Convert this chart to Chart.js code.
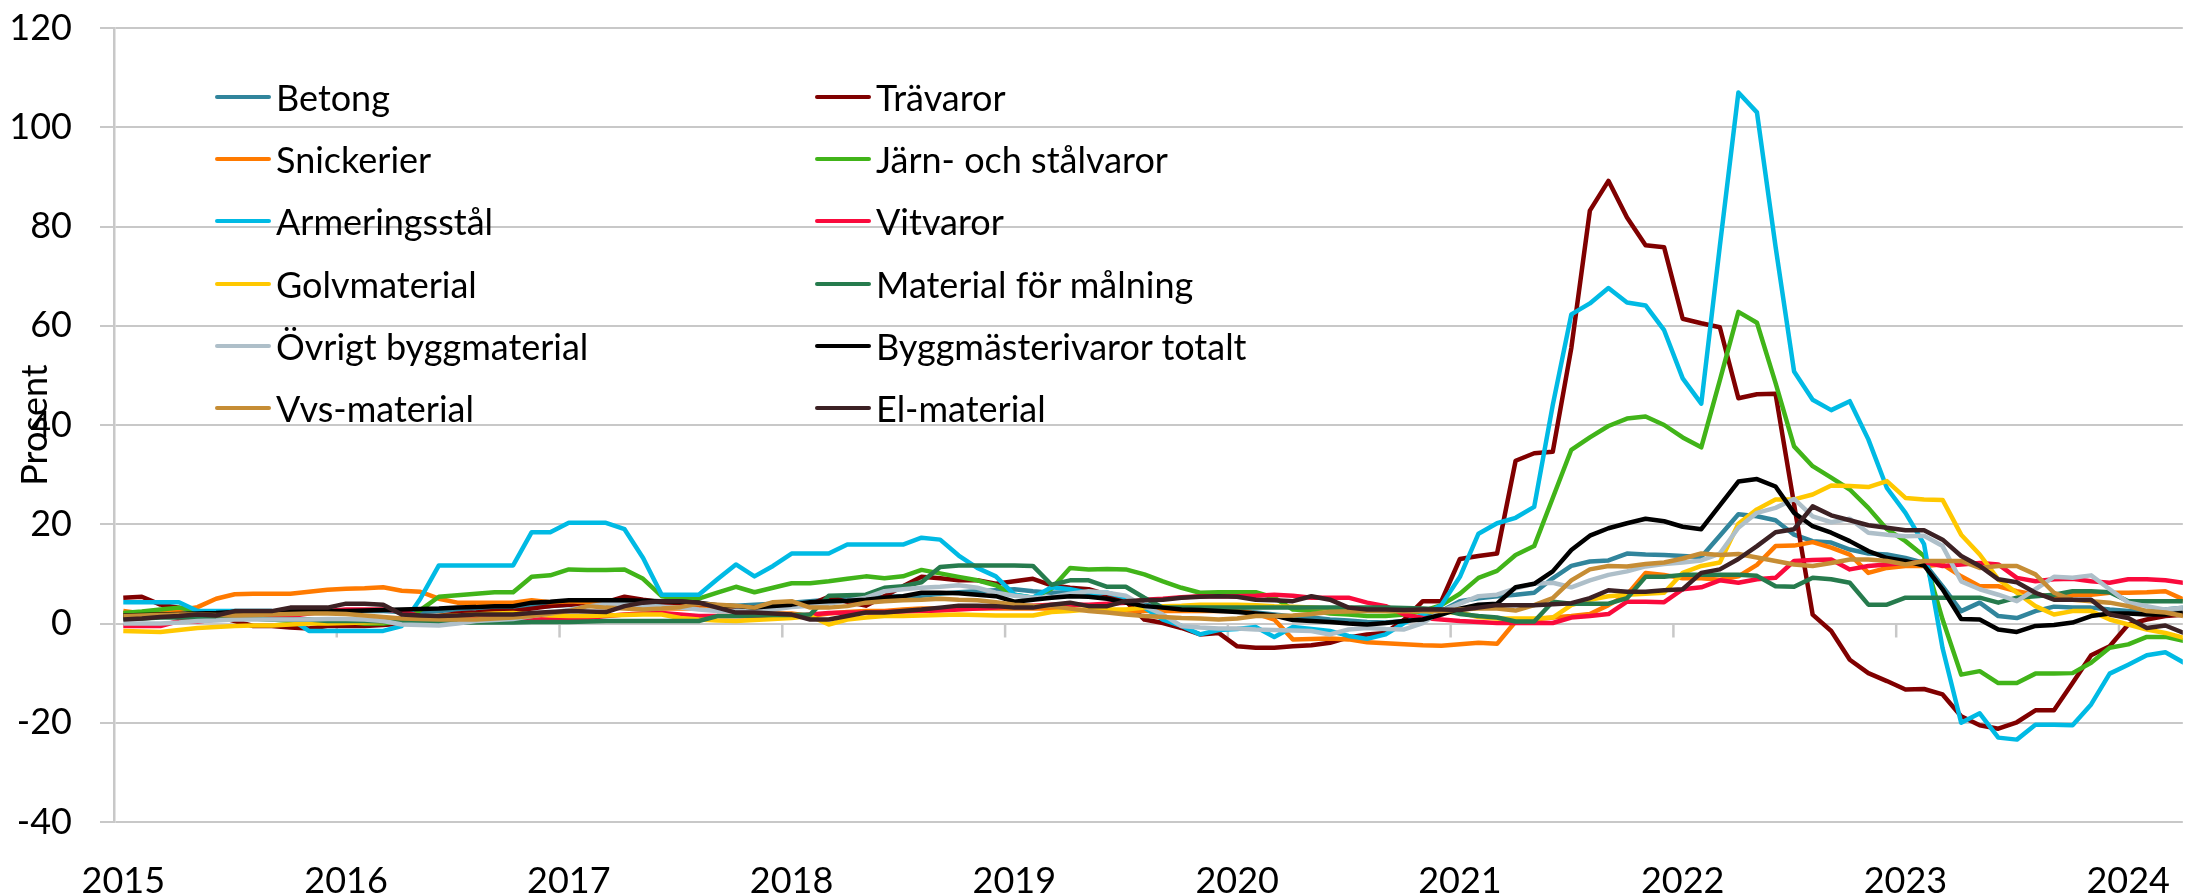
<!DOCTYPE html>
<html lang="sv">
<head>
<meta charset="utf-8">
<title>Byggmästerivaror</title>
<script src="https://cdn.jsdelivr.net/npm/chart.js@4.4.1/dist/chart.umd.min.js"></script>
<style>
  body { margin: 0; background: #fff; }
  #wrap { position: relative; width: 2208px; height: 895px; overflow: hidden; }
  #chart { position: absolute; left: 0; top: 0; }
  .legend-item {
    position: absolute; height: 62px; display: flex; align-items: center;
    font-family: Lato, sans-serif; font-size: 36px; color: #000; white-space: nowrap;
  }
  .legend-item .swatch { display: inline-block; width: 56px; height: 4px; border-radius: 2px; margin-right: 5px; }
</style>
</head>
<body>
<div id="wrap">
  <canvas id="chart" width="2208" height="895"></canvas>
  <div id="legend"></div>
</div>
<script>
// tick labels (one per January)
var years = ['2015', '2016', '2017', '2018', '2019', '2020', '2021', '2022', '2023', '2024']

// categories: months Jan 2015 - Apr 2024
var months = []
years.forEach(function(y) {
    for (var m = 1; m <= 12; m++) months.push(y + '-' + (m < 10 ? '0' + m : m))
})
months = months.slice(0, 112)

// annual change, percent
var betong = [1.5, 1.5, 1.8, 2, 2, 2, 2.2, 2.3, 2.3, 2.5, 2.5, 2.5,
    2.5, 2.5, 2.5, 2.3, 2.3, 2.5, 2.8, 3, 3, 3.2, 3.5, 3.5,
    3.8, 3.8, 3.8, 3.8, 3.6, 3.5, 3.5, 3.5, 3.6, 3.6, 3.8, 4,
    4.2, 4.5, 4.8, 5, 5.2, 5.4, 5.5, 5.6, 6, 6.3, 6.5, 6.7,
    6.9, 6.5, 6.2, 6.3, 6.2, 5.5, 4.5, 3.8, 3.3, 3, 2.8, 2.6,
    2.5, 2.2, 1.8, 1.4, 1.2, 0.8, 0.6, 0.3, 0.2, 0.5, 1.2, 2.5,
    4.5, 5.1, 5.5, 5.8, 6.2, 9.1, 11.6, 12.5, 12.7, 14.1, 13.9, 13.8,
    13.6, 13.4, 17.7, 22, 21.6, 20.8, 17.9, 16.6, 16.3, 14.9, 14.1, 13.9,
    13.2, 12.2, 7.5, 2.5, 4.2, 1.5, 1.1, 2.5, 3.4, 3.2, 3.2, 2.8,
    2.5, 2.5, 2.8, 3.2]
var travaror = [5.2, 5.4, 3.8, 3.2, 2.5, 1.5, 0.5, -0.5, -0.5, -0.8, -1, -0.5,
    -0.5, -0.5, -0.3, 0, 1, 1.5, 2, 2.2, 2.5, 2.5, 3, 3.5,
    3.8, 4, 4.3, 5.4, 4.8, 4.3, 3.8, 3.2, 2.8, 2.5, 2.5, 3,
    3.5, 3.8, 5.4, 4.3, 3.6, 5.5, 7.5, 9.4, 9.1, 8.7, 8.7, 8,
    8.5, 9, 7.7, 7.2, 6.9, 5.8, 4.5, 0.8, 0.1, -0.9, -2.2, -1.9,
    -4.6, -4.9, -4.9, -4.6, -4.4, -3.9, -2.8, -2.2, -1.9, 0.8, 4.5, 4.5,
    13, 13.6, 14.1, 32.8, 34.3, 34.6, 55.5, 83.2, 89.2, 81.8, 76.2, 75.8,
    61.4, 60.5, 59.7, 45.4, 46.2, 46.3, 24, 1.8, -1.5, -7.3, -10, -11.6,
    -13.3, -13.2, -14.3, -18.7, -20.5, -21.2, -19.9, -17.5, -17.5, -12, -6.4, -4.6,
    -0.2, 0.8, 1.5, 1.8]
var snickerier = [2.5, 2, 2, 2.7, 3.3, 5, 5.9, 6, 6, 6, 6.4, 6.8,
    7, 7.1, 7.3, 6.6, 6.4, 5, 4.2, 4.2, 4.2, 4.2, 4.7, 4.3,
    4.5, 4.3, 4, 3.5, 3.2, 3, 3, 3, 2.8, 2.5, 2.3, 2,
    2, 1.5, 2, 2.3, 2.5, 2.5, 2.8, 3, 3, 3, 3, 3,
    3, 3, 3, 2.8, 2.7, 2.7, 2.6, 2.5, 2.5, 2.5, 2.5, 2.5,
    2.5, 2, 0.8, -3.2, -3.1, -3, -3.2, -3.8, -4, -4.2, -4.4, -4.5,
    -4.2, -3.9, -4.1, 0.4, 0.8, 1.2, 1.5, 1.9, 3.7, 5.8, 10.2, 9.8,
    9.1, 9.1, 8.8, 9.5, 11.8, 15.6, 15.7, 16.4, 15.3, 13.9, 10.2, 11.2,
    11.6, 11.6, 11.9, 9.5, 7.5, 7.5, 6.5, 5.8, 5.5, 5.8, 5.8, 6.2,
    6.2, 6.3, 6.5, 4.8]
var jarnStal = [2.1, 2.4, 2.8, 3.2, 2.5, 1.5, 1, 1, 0.8, 0.5, 0.5, 0.3,
    0.3, 0, 0, 0.5, 2.7, 5.4, 5.7, 6, 6.3, 6.3, 9.4, 9.7,
    10.9, 10.8, 10.8, 10.9, 9, 5.5, 5, 5, 6.2, 7.4, 6.3, 7.2,
    8.1, 8.1, 8.5, 9, 9.5, 9.1, 9.5, 10.8, 10.1, 9.4, 8.7, 7.7,
    5.8, 5.2, 7, 11.2, 10.9, 11, 10.9, 9.9, 8.5, 7.2, 6.2, 6.3,
    6.3, 6.3, 5.2, 2.8, 2.6, 2, 1.8, 1.5, 1.5, 1.8, 2.5, 3.7,
    6, 9.2, 10.6, 13.8, 15.6, 25.3, 35, 37.5, 39.8, 41.3, 41.7, 40,
    37.5, 35.5, 49, 62.8, 60.6, 48.5, 35.7, 31.7, 29.4, 27, 23.3, 19,
    16.6, 13.6, 0.8, -10.3, -9.6, -12, -12, -10.1, -10.1, -10, -7.9, -4.9,
    -4.2, -2.7, -2.7, -3.5]
var armering = [4.3, 4.3, 4.3, 4.3, 2.5, 2.5, 2.5, 2.5, 2.5, 1, -1.5, -1.5,
    -1.5, -1.5, -1.5, -0.5, 5, 11.7, 11.7, 11.7, 11.7, 11.7, 18.4, 18.4,
    20.3, 20.3, 20.3, 19, 13.2, 5.8, 5.8, 5.8, 8.9, 11.9, 9.5, 11.6,
    14.1, 14.1, 14.1, 15.9, 15.9, 15.9, 15.9, 17.3, 16.9, 13.7, 11.2, 9.5,
    5.8, 5.2, 7.3, 6.9, 6.2, 6.2, 5.2, 3.2, 0.8, -0.5, -2.2, -1.3,
    -1.1, -0.7, -2.7, -0.7, -1.1, -1.5, -2.5, -3.1, -2.2, 0.1, 1.8, 3.7,
    9.4, 18.1, 20.2, 21.3, 23.5, 44, 62.3, 64.5, 67.6, 64.7, 64.1, 59.1,
    49.4, 44.3, 76, 107, 103, 76, 50.8, 45.1, 43, 44.8, 37.1, 27.3,
    22.3, 16, -5, -20, -18.1, -23, -23.4, -20.4, -20.4, -20.5, -16.3, -10.1,
    -8.3, -6.4, -5.8, -7.9]
var vitvaror = [-0.5, -0.5, -0.5, 0.5, 0.4, 0.8, 1, 1, 1.2, 1.5, 2, 2.5,
    2.8, 2.8, 2.8, 2.5, 1.5, 1, 1, 1, 1, 1, 1, 1,
    1, 1.1, 1.5, 1.8, 2, 2.1, 1.8, 1.5, 1.5, 1.5, 1.4, 1.4,
    1.4, 1.8, 2.1, 2.2, 2.2, 2.3, 2.4, 2.5, 2.6, 2.8, 3, 3.2,
    3.4, 3.6, 3.8, 3.8, 3.8, 4, 4.2, 4.8, 5, 5.3, 5.5, 5.5,
    5.5, 5.6, 5.8, 5.6, 5.2, 5.2, 5.2, 4.2, 3.5, 1.8, 1.1, 0.8,
    0.5, 0.3, 0.1, 0.1, 0.1, 0.1, 1.2, 1.5, 1.9, 4.4, 4.4, 4.3,
    6.9, 7.3, 8.7, 8.2, 8.9, 9.2, 12.6, 12.8, 12.9, 10.9, 11.6, 11.9,
    12.2, 12.4, 11.6, 11.9, 12.2, 11.9, 9.2, 8.5, 8.9, 9, 8.5, 8.2,
    8.9, 8.9, 8.7, 8.2]
var golv = [-1.5, -1.6, -1.7, -1.3, -0.9, -0.7, -0.5, -0.4, -0.4, -0.2, 0, 0,
    0.1, 0.2, 0.3, 0.8, 1.2, 1.5, 1.6, 1.8, 2, 2.1, 1.8, 1.6,
    1.5, 1.5, 1.6, 1.7, 1.8, 1.8, 1.1, 0.8, 0.6, 0.5, 0.7, 0.9,
    1.1, 1.5, -0.2, 0.8, 1.2, 1.5, 1.5, 1.6, 1.7, 1.8, 1.7, 1.6,
    1.6, 1.6, 2.3, 2.5, 2.8, 2.8, 2.8, 3.2, 3.5, 3.6, 3.8, 3.8,
    3.8, 3.7, 3.5, 3.4, 3.2, 3, 2.8, 2.6, 2.5, 2.5, 2.5, 2.3,
    2.2, 1.3, 1, 1, 1, 1.2, 3.7, 4.8, 5.5, 5.8, 6, 6.2,
    10.2, 11.6, 12.3, 20.1, 23, 25, 25, 26, 27.8, 27.7, 27.5, 28.7,
    25.3, 25, 24.9, 17.9, 13.9, 8.9, 6.2, 3.5, 1.8, 2.5, 2.5, 0.8,
    -0.2, -1.2, -1.9, -2.9]
var malning = [1, 1, 1.2, 1.2, 1.2, 1, 1, 1, 0.8, 0.8, 0.8, 0.5,
    0.5, 0.5, 0.4, 0.3, 0.2, 0.2, 0.2, 0.2, 0.2, 0.2, 0.3, 0.3,
    0.3, 0.4, 0.5, 0.5, 0.5, 0.5, 0.5, 0.5, 1.5, 1.5, 1.6, 1.7,
    1.7, 1.8, 5.6, 5.7, 5.8, 7.2, 7.5, 8.3, 11.4, 11.7, 11.7, 11.7,
    11.7, 11.6, 7.8, 8.7, 8.7, 7.4, 7.4, 5.2, 3.2, 3.2, 3.2, 3.2,
    3.2, 3.2, 3.2, 3.2, 3.2, 3.2, 3.2, 3.2, 3.2, 3.1, 3, 2.8,
    1.9, 1.5, 1.2, 0.4, 0.4, 4.4, 4, 4, 4, 5.1, 9.4, 9.4,
    9.8, 9.8, 9.8, 9.8, 9.6, 7.5, 7.4, 9.2, 8.9, 8.2, 3.8, 3.8,
    5.2, 5.2, 5.2, 5.2, 5.2, 4.2, 5.2, 5.5, 5.8, 6.5, 6.5, 6.3,
    4.5, 4.5, 4.5, 4.5]
var ovrigt = [0, 0, 0, 0.2, 0.5, 0.6, 0.8, 0.8, 0.8, 0.8, 0.8, 0.9,
    0.9, 0.8, 0.5, -0.2, -0.3, -0.4, 0, 0.5, 0.7, 0.9, 1.5, 2,
    2.8, 3.4, 4, 3.8, 3.6, 3.4, 3.2, 2.8, 2.5, 2.5, 2.5, 2.8,
    3.3, 3.6, 4, 4.6, 5.2, 6.5, 6.9, 7.2, 7.4, 7.7, 7.2, 6.2,
    5.6, 5.2, 5.3, 6, 6.5, 6.2, 5.6, 3.5, 1.8, -0.5, -0.8, -1,
    -1, -1.2, -1.3, -1.4, -1.5, -2.2, -1.2, -0.9, -1.1, -1.2, 0.1, 2.5,
    4, 5.5, 5.8, 7.1, 8, 8.2, 7.3, 8.7, 9.8, 10.5, 11.5, 12,
    12.3, 12.7, 14.1, 19.3, 22.3, 23.3, 25.1, 21.6, 20.4, 21.1, 18.3, 17.9,
    17.6, 17.7, 15.6, 8.5, 6.9, 5.8, 4.5, 6.9, 9.4, 9.2, 9.7, 6.9,
    4.2, 3.5, 2.8, 3.2]
var totalt = [1.6, 1.7, 1.8, 1.9, 2, 2.1, 2.3, 2.3, 2.4, 2.4, 2.5, 2.5,
    2.5, 2.6, 2.7, 2.8, 2.9, 3, 3.2, 3.3, 3.5, 3.5, 4.2, 4.4,
    4.7, 4.7, 4.7, 4.7, 4.6, 4.5, 4.4, 4.2, 3.7, 3.5, 3.2, 3.5,
    3.8, 4.3, 4.5, 4.6, 4.8, 5.2, 5.5, 6.2, 6.2, 6.1, 5.8, 5.5,
    4.4, 4.8, 5.2, 5.5, 5.4, 5, 4.2, 3.5, 3.2, 2.8, 2.7, 2.5,
    2.3, 2, 1.6, 0.7, 0.5, 0.3, 0, -0.2, 0.1, 0.5, 0.8, 1.8,
    3, 3.8, 4, 7.3, 8, 10.5, 14.8, 17.7, 19.2, 20.2, 21.1, 20.6,
    19.5, 19, 23.8, 28.6, 29.1, 27.6, 22.3, 19.6, 18.3, 16.6, 14.6, 13.2,
    12.6, 11.7, 6.9, 0.9, 0.8, -1.2, -1.7, -0.5, -0.3, 0.2, 1.5, 2,
    2, 1.8, 1.8, 2.2]
var vvs = [1.5, 1.6, 1.7, 1.8, 1.8, 1.7, 1.6, 1.7, 1.8, 1.9, 2, 2,
    1.9, 1.6, 1.3, 1, 0.9, 0.8, 0.8, 0.8, 1, 1.2, 1.5, 2,
    2.5, 3.5, 3.2, 3, 2.8, 3, 3.3, 4, 3.8, 3.6, 3.2, 4.3,
    4.5, 3.2, 3.2, 3.5, 4.2, 4.5, 4.7, 4.8, 5, 4.8, 4.7, 4.3,
    3.8, 3.6, 3.5, 3, 2.5, 2.2, 1.8, 1.5, 1.3, 1.1, 1, 0.8,
    1, 1.5, 1.5, 1.6, 1.9, 2.3, 2.4, 2.5, 2.5, 2.5, 2.5, 2.5,
    2.8, 3, 3, 2.6, 3.7, 5.1, 8.7, 10.9, 11.6, 11.5, 12, 12.3,
    13.1, 14.1, 13.8, 14, 13.3, 12.6, 11.9, 11.6, 12.2, 12.9, 12.9, 12.6,
    11.9, 12.6, 12.6, 12.6, 11.2, 11.6, 11.6, 9.9, 6.2, 4.8, 4.5, 4.2,
    3.5, 2.5, 2.2, 1.5]
var elMaterial = [0.8, 1, 1.3, 1.5, 1.8, 1.6, 2.5, 2.5, 2.5, 3.2, 3.2, 3.2,
    4, 4, 3.8, 1.8, 1.6, 1.5, 1.6, 1.8, 1.8, 1.8, 2.1, 2.3,
    2.5, 2.4, 2.3, 3.5, 4.2, 4.5, 4.5, 4.2, 3.2, 2.2, 2.2, 2,
    1.8, 0.8, 0.8, 1.5, 2.2, 2.2, 2.5, 2.8, 3.2, 3.6, 3.6, 3.5,
    3.2, 3.2, 3.8, 4.2, 3.5, 3.5, 4.5, 4.7, 4.8, 5.2, 5.4, 5.5,
    5.4, 4.8, 4.7, 4.5, 5.5, 4.8, 3.2, 2.8, 2.8, 2.7, 2.8, 2.8,
    2.7, 3.2, 3.7, 3.7, 3.7, 3.9, 4.1, 5.1, 6.7, 6.4, 6.4, 6.7,
    6.9, 10.2, 10.9, 13, 15.6, 18.4, 19, 23.6, 21.8, 20.8, 19.8, 19.3,
    18.8, 18.8, 16.9, 13.6, 11.6, 8.9, 8.3, 6.2, 4.8, 4.8, 4.8, 1.8,
    1.1, -0.9, -0.4, -1.9]

// series in legend order (row by row, two columns)
var series = [
    { label: 'Betong', data: betong, color: '#31859C' },
    { label: 'Trävaror', data: travaror, color: '#800000' },
    { label: 'Snickerier', data: snickerier, color: '#FF7A00' },
    { label: 'Järn- och stålvaror', data: jarnStal, color: '#41B419' },
    { label: 'Armeringsstål', data: armering, color: '#00BAE4' },
    { label: 'Vitvaror', data: vitvaror, color: '#FA0A3C' },
    { label: 'Golvmaterial', data: golv, color: '#FFC800' },
    { label: 'Material för målning', data: malning, color: '#267B4D' },
    { label: 'Övrigt byggmaterial', data: ovrigt, color: '#AEBFC9' },
    { label: 'Byggmästerivaror totalt', data: totalt, color: '#000000' },
    { label: 'Vvs-material', data: vvs, color: '#C68D35' },
    { label: 'El-material', data: elMaterial, color: '#3C2124' }
]

var font = { family: 'Lato, sans-serif', size: 36 }
var gridColor = '#C8C8C8'

// little tick marks hanging below the zero line at each year boundary
var zeroTicks = {
    id: 'zeroTicks',
    beforeDatasetsDraw: function(chart) {
        var xs = chart.scales.x, ys = chart.scales.y, ctx = chart.ctx
        var y0 = ys.getPixelForValue(0)
        ctx.save()
        ctx.strokeStyle = gridColor
        ctx.lineWidth = 2.5
        for (var k = 1; k < years.length; k++) {
            var px = xs.getPixelForValue(k * 12 - 0.5)
            ctx.beginPath()
            ctx.moveTo(px, y0)
            ctx.lineTo(px, y0 + 14)
            ctx.stroke()
        }
        ctx.restore()
    }
}

var datasets = series.map(function(s, idx) {
    return {
        label: s.label,
        data: months.map(function(m, i) { return { x: i, y: s.data[i] } }),
        borderColor: s.color,
        backgroundColor: s.color,
        borderWidth: 4.5,
        borderJoinStyle: 'round',
        pointRadius: 0,
        tension: 0,
        order: series.length - 1 - idx
    }
})

var ctx = document.getElementById('chart').getContext('2d')
var chart = new Chart(ctx, {
    type: 'line',
    data: { datasets: datasets },
    options: {
        responsive: false,
        animation: false,
        devicePixelRatio: 1,
        layout: { padding: { top: 28, left: 0, right: 0, bottom: 0 } },
        plugins: { legend: { display: false }, tooltip: { enabled: false } },
        scales: {
            x: {
                type: 'linear',
                min: -0.5,
                max: 110.94,
                grid: { display: false, drawTicks: false },
                border: { display: false },
                afterBuildTicks: function(scale) {
                    scale.ticks = years.map(function(y, k) { return { value: k * 12 } })
                },
                ticks: {
                    autoSkip: false,
                    maxRotation: 0,
                    minRotation: 0,
                    padding: 38,
                    color: '#000',
                    font: font,
                    callback: function(value) { return years[Math.round(value / 12)] }
                },
                afterFit: function(scale) { scale.height = 73 }
            },
            y: {
                min: -40,
                max: 120,
                grid: { color: gridColor, lineWidth: 2, tickLength: 14 },
                border: { color: gridColor, width: 2.5 },
                ticks: { stepSize: 20, padding: 28, color: '#000', font: font },
                title: {
                    display: true,
                    text: 'Prosent',
                    color: '#000',
                    font: font,
                    padding: { top: 14, bottom: 0 }
                },
                afterFit: function(scale) {
                    scale.width = 114
                    // tick padding would otherwise push the plot down
                    scale.paddingTop = 0
                    scale.paddingBottom = 0
                }
            }
        }
    },
    plugins: [zeroTicks]
})

// two-column legend drawn as real text over the plot
var legend = document.getElementById('legend')
series.forEach(function(s, idx) {
    var row = Math.floor(idx / 2), col = idx % 2
    var item = document.createElement('div')
    item.className = 'legend-item'
    item.style.left = (col === 0 ? 215 : 815) + 'px'
    item.style.top = (97 + row * 62.2 - 31) + 'px'
    var sw = document.createElement('span')
    sw.className = 'swatch'
    sw.style.background = s.color
    item.appendChild(sw)
    item.appendChild(document.createTextNode(s.label))
    legend.appendChild(item)
})
</script>
</body>
</html>
